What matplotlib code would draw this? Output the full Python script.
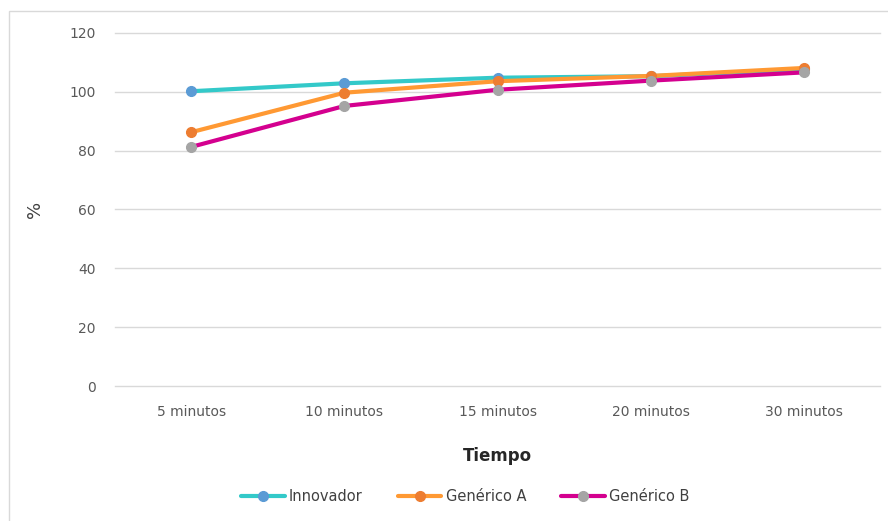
import matplotlib.pyplot as plt
from matplotlib.patches import Rectangle

categorias = ["5 minutos", "10 minutos", "15 minutos", "20 minutos", "30 minutos"]
innovador = [100.2, 102.9, 104.8, 105.3, 107.6]
generico_a = [86.3, 99.7, 103.6, 105.4, 108.1]
generico_b = [81.3, 95.2, 100.7, 103.8, 106.6]

series = [
    ("Innovador", innovador, "#33c9c9", "#5b9bd5"),
    ("Genérico A", generico_a, "#ff9933", "#ed7d31"),
    ("Genérico B", generico_b, "#d4008f", "#a5a5a5"),
]

fig = plt.figure(figsize=(8.88, 5.21), dpi=100)
fig.patches.append(Rectangle((9 / 888, -0.01), 1.0, 1 - 11 / 521 + 0.01,
                             transform=fig.transFigure, fill=False,
                             edgecolor="#d9d9d9", lw=1))
ax = fig.add_axes([0.1295, 0.2591, 0.8615, 0.6776])

x = range(len(categorias))
for name, vals, lc, mc in series:
    ax.plot(x, vals, color=lc, lw=3, marker="o", markersize=7,
            markerfacecolor=mc, markeredgecolor=mc, label=name,
            solid_capstyle="round")

ax.set_xlim(-0.5, len(categorias) - 0.5)
ax.set_ylim(0, 120)
ax.set_yticks(range(0, 121, 20))
ax.set_xticks(list(x))
ax.set_xticklabels(categorias)
ax.grid(axis="y", color="#d9d9d9", lw=1)
for gl in ax.get_ygridlines():
    gl.set_clip_on(False)
ax.set_axisbelow(True)
for s in ax.spines.values():
    s.set_visible(False)
ax.tick_params(length=0, colors="#595959", labelsize=10)
ax.tick_params(axis="y", pad=14)
ax.tick_params(axis="x", pad=14)

ax.set_xlabel("Tiempo", fontsize=12, fontweight="bold", color="#262626", labelpad=20)
ax.set_ylabel("%", fontsize=13, color="#404040", labelpad=18)

ax.legend(loc="upper center", bbox_to_anchor=(0.458, -0.255), ncol=3, frameon=False,
          fontsize=10.5, handlelength=3.0, columnspacing=2.4, handletextpad=0.3,
          labelcolor="#404040")

fig.savefig("out.png", dpi=100)
